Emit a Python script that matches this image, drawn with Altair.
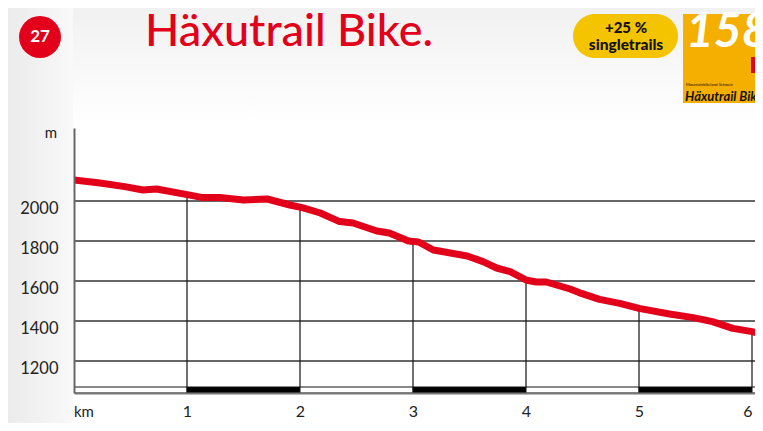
import altair as alt
import pandas as pd

# ---- data ----
km = [0.00, 0.23, 0.45, 0.61, 0.73, 0.99, 1.14, 1.29, 1.50, 1.71, 1.91, 2.02, 2.18,
      2.35, 2.47, 2.68, 2.79, 2.96, 3.05, 3.18, 3.48, 3.62, 3.74, 3.86, 4.00, 4.09,
      4.18, 4.27, 4.39, 4.47, 4.65, 4.83, 5.00, 5.27, 5.48, 5.65, 5.83, 6.00, 6.09]
elev = [2105, 2090, 2072, 2055, 2060, 2033, 2017, 2017, 2005, 2010, 1980, 1967, 1940,
        1897, 1890, 1850, 1840, 1800, 1795, 1755, 1725, 1697, 1665, 1647, 1605, 1595,
        1595, 1580, 1560, 1542, 1508, 1488, 1463, 1435, 1417, 1397, 1363, 1347, 1335]
mark_km = [1, 2, 3, 4, 5, 6]
mark_elev = [2031, 1967, 1798, 1605, 1463, 1347]
y_ticks = [1200, 1400, 1600, 1800, 2000]
x_ticks = [1, 2, 3, 4, 5, 6]
seg_start = [0, 1, 2, 3, 4, 5, 6]
seg_end = [1, 2, 3, 4, 5, 6, 6.1]
seg_fill = ["white", "black", "white", "black", "white", "black", "white"]

RED = "#E2001A"
FONT = "Lato"
PX_PER_KM = 113
W, H = 681, 265

profile_df = pd.DataFrame({"km": km, "elev": elev})
drop_df = pd.DataFrame({"km": mark_km, "elev": mark_elev, "base": [1070] * len(mark_km)})
grid_df = pd.DataFrame({"elev": y_ticks})
bar_df = pd.DataFrame({"km": seg_start, "km2": seg_end, "fill": seg_fill,
                       "lo": [1040] * len(seg_start), "hi": [1070] * len(seg_start)})
one = pd.DataFrame({"a": [0]})

xs = alt.Scale(domain=[0, W / PX_PER_KM], nice=False, zero=False)
ys = alt.Scale(domain=[1040, 2365], nice=False, zero=False)
xaxis = alt.Axis(values=x_ticks, title=None, ticks=False, grid=False, labelPadding=10,
                 labelFontSize=16, labelFont=FONT, labelColor="#222", domainColor="#777",
                 domainWidth=2, zindex=1, labelBaseline="top", format="d", labelFlush=5)
yaxis = alt.Axis(values=y_ticks, title=None, ticks=False, grid=False, labelPadding=16,
                 labelFontSize=16.5, labelFont=FONT, labelColor="#222", domainColor="#666",
                 domainWidth=2, zindex=1, labelBaseline="top", labelOffset=-1, format="d")


def X(f):
    return alt.X(f, type="quantitative", scale=xs, axis=xaxis)


def Y(f):
    return alt.Y(f, type="quantitative", scale=ys, axis=yaxis)


def txt(s, x, y, **kw):
    return alt.Chart(one).mark_text(text=s, **kw).encode(x=alt.value(x), y=alt.value(y))


grad_h = alt.LinearGradient(gradient="linear", x1=0, x2=1, y1=0, y2=0,
                            stops=[alt.GradientStop(color="#ebebeb", offset=0),
                                   alt.GradientStop(color="#f9f9f9", offset=1)])
grad_v = alt.LinearGradient(gradient="linear", x1=0, x2=0, y1=0, y2=1,
                            stops=[alt.GradientStop(color="#f1f1f1", offset=0),
                                   alt.GradientStop(color="#ffffff", offset=1)])

bg_top = alt.Chart(one).mark_rect(color=grad_v).encode(
    x=alt.value(-66), x2=alt.value(W), y=alt.value(-120), y2=alt.value(-2))
bg_left = alt.Chart(one).mark_rect(color=grad_h).encode(
    x=alt.value(-66), x2=alt.value(-1), y=alt.value(-120), y2=alt.value(295))

grid = alt.Chart(grid_df).mark_rule(color="#333", strokeWidth=1.3).encode(
    y=Y("elev"), x=alt.value(0), x2=alt.value(W))
drops = alt.Chart(drop_df).mark_rule(color="#111", strokeWidth=1.2).encode(
    x=X("km"), y=Y("elev"), y2=alt.Y2("base"))
bar = alt.Chart(bar_df).mark_rect(stroke="#111", strokeWidth=1, clip=True).encode(
    x=X("km"), x2=alt.X2("km2"), y=Y("lo"), y2=alt.Y2("hi"),
    color=alt.Color("fill:N", scale=None))
profile = alt.Chart(profile_df).mark_line(color=RED, strokeWidth=7, strokeJoin="round",
                                          strokeCap="round", clip=True).encode(
    x=X("km"), y=Y("elev"))

unit_m = txt("m", -17, 5, align="right", baseline="middle", fontSize=15, font=FONT, color="#222")
unit_km = txt("km", 0, 284, align="left", baseline="middle", fontSize=15, font=FONT, color="#222")

circle = alt.Chart(one).mark_circle(size=1764, color=RED, opacity=1).encode(
    x=alt.value(-34), y=alt.value(-91))
num = txt("27", -34, -91, align="center", baseline="middle", fontSize=17, font=FONT,
          fontWeight="bold", color="white")
title = txt("Häxutrail Bike.", 71, -82, align="left", baseline="alphabetic", fontSize=45,
            font=FONT, fontWeight=500, color=RED)

pill = alt.Chart(one).mark_rect(color="#F5C400", cornerRadius=22).encode(
    x=alt.value(499), x2=alt.value(604), y=alt.value(-114), y2=alt.value(-70))
pill1 = txt("+25 %", 552, -100, align="center", baseline="middle", fontSize=15, font=FONT,
            fontWeight=900, color="#111")
pill2 = txt("singletrails", 552, -83, align="center", baseline="middle", fontSize=15.5,
            font=FONT, fontWeight=900, color="#111")

logo = alt.Chart(one).mark_rect(color="#F4AF00").encode(
    x=alt.value(609), x2=alt.value(W), y=alt.value(-114), y2=alt.value(-25))
logo_num = txt("158", 612, -81, align="left", baseline="alphabetic", fontSize=48,
               font=FONT, fontWeight="bold", fontStyle="italic", color="white")
flag = alt.Chart(one).mark_rect(color="#E2001A").encode(
    x=alt.value(677), x2=alt.value(W), y=alt.value(-71), y2=alt.value(-55))
logo_small = txt("Mountainbikeland Schweiz", 612, -43, align="left", baseline="middle",
                 fontSize=4, font=FONT, color="#111")
logo_name = txt("Häxutrail Bike", 611, -27, align="left", baseline="alphabetic", fontSize=13,
                font=FONT, fontWeight="bold", fontStyle="italic", color="#111")

chart = alt.layer(
    bg_top, bg_left, grid, drops, bar, profile, unit_m, unit_km,
    circle, num, title, pill, pill1, pill2, logo, logo_num, flag, logo_small, logo_name
).properties(
    width=W, height=H,
    autosize=alt.AutoSizeParams(type="none"),
    padding={"left": 66, "top": 120, "right": 0, "bottom": 30},
    background="#ffffff",
).configure_view(stroke=None)

chart.save("out.html", embed_options={"renderer": "svg", "actions": False})
